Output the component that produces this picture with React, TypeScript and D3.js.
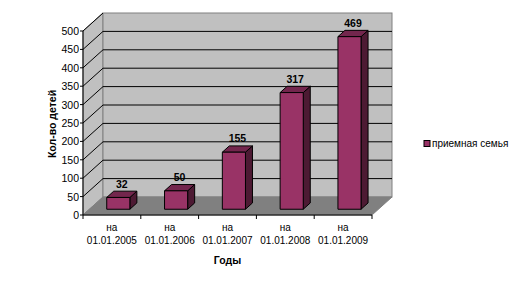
import React from "react";
import * as d3 from "d3";

const categories = ["01.01.2005", "01.01.2006", "01.01.2007", "01.01.2008", "01.01.2009"];
const values = [32, 50, 155, 317, 469];
const yTicks = [0, 50, 100, 150, 200, 250, 300, 350, 400, 450, 500];
const seriesName = "приемная семья";
const yTitle = "Кол-во детей";
const xTitle = "Годы";
const catPrefix = "на";

const W = 527, H = 285;
const X0 = 83, X1 = 372, Y0 = 215, Y1 = 31;
const DX = 20, DY = -18;
const F_FRONT = 0.32, F_BACK = 0.67;
const FONT = "'Liberation Sans', Arial, sans-serif";

export default function App() {
  const y = d3.scaleLinear().domain([0, 500]).range([Y0, Y1]);
  const x = d3.scaleBand<string>().domain(categories).range([X0, X1]).paddingInner(0.6).paddingOuter(0.3);
  const cat = d3.scaleBand<string>().domain(categories).range([X0, X1]).padding(0);
  const step = cat.step();

  return (
    <svg width={W} height={H} style={{ position: "absolute", left: 0, top: 0, background: "#fff" }} fontFamily={FONT}>
      {/* left side wall */}
      <polygon points={`${X0},${Y1} ${X0 + DX},${Y1 + DY} ${X0 + DX},${Y0 + DY} ${X0},${Y0}`} fill="#c0c0c0" stroke="#808080" />
      {/* back wall */}
      <rect x={X0 + DX} y={Y1 + DY} width={X1 - X0} height={Y0 - Y1} fill="#c0c0c0" stroke="#808080" />
      {/* gridlines */}
      {yTicks.filter(v => v > 0 && v < 500).map(v => (
        <line key={"g" + v} x1={X0 + DX} x2={X1 + DX} y1={y(v) + DY} y2={y(v) + DY} stroke="#000" />
      ))}
      {yTicks.filter(v => v > 0).map(v => (
        <line key={"d" + v} x1={X0} y1={y(v)} x2={X0 + DX} y2={y(v) + DY} stroke="#000" />
      ))}
      {/* floor */}
      <polygon points={`${X0},${Y0} ${X0 + DX},${Y0 + DY} ${X1 + DX},${Y0 + DY} ${X1},${Y0}`} fill="#808080" stroke="#808080" />
      {/* bars */}
      {categories.map((c, i) => {
        const xl = x(c)!;
        const xr = xl + x.bandwidth();
        const yb = y(0);
        const yt = y(values[i]);
        const fx = (px: number) => px + F_FRONT * DX;
        const fy = (py: number) => py + F_FRONT * DY;
        const d = F_BACK - F_FRONT;
        const front = `${fx(xl)},${fy(yt)} ${fx(xr)},${fy(yt)} ${fx(xr)},${fy(yb)} ${fx(xl)},${fy(yb)}`;
        const top = `${fx(xl)},${fy(yt)} ${fx(xl) + d * DX},${fy(yt) + d * DY} ${fx(xr) + d * DX},${fy(yt) + d * DY} ${fx(xr)},${fy(yt)}`;
        const side = `${fx(xr)},${fy(yt)} ${fx(xr) + d * DX},${fy(yt) + d * DY} ${fx(xr) + d * DX},${fy(yb) + d * DY} ${fx(xr)},${fy(yb)}`;
        const cx = fx(xl + x.bandwidth() / 2) + (d * DX) / 2;
        return (
          <g key={c} stroke="#000" strokeWidth={1} strokeLinejoin="round">
            <polygon points={side} fill="#4d1a33" />
            <polygon points={top} fill="#73264d" />
            <polygon points={front} fill="#993366" />
            <text x={cx} y={fy(yt) + d * DY - 3.5} textAnchor="middle" fontSize={10.5} fontWeight="bold" stroke="none" fill="#000">{values[i]}</text>
          </g>
        );
      })}
      {/* y axis */}
      <line x1={X0} y1={Y0} x2={X0} y2={Y1} stroke="#000" />
      {yTicks.map(v => (
        <g key={"t" + v}>
          <line x1={X0 - 3} x2={X0} y1={y(v)} y2={y(v)} stroke="#000" />
          <text x={X0 - 4} y={y(v) + 4} textAnchor="end" fontSize={10.5} fill="#000">{v}</text>
        </g>
      ))}
      {/* x axis */}
      <line x1={X0} y1={Y0} x2={X1} y2={Y0} stroke="#000" />
      {d3.range(categories.length + 1).map(i => (
        <line key={"xt" + i} x1={X0 + i * step} x2={X0 + i * step} y1={Y0} y2={Y0 + 4} stroke="#000" />
      ))}
      {categories.map(c => {
        const cx = cat(c)! + step / 2;
        return (
          <g key={"xl" + c} fontSize={10} fill="#000" textAnchor="middle">
            <text x={cx} y={231}>{catPrefix}</text>
            <text x={cx} y={244}>{c}</text>
          </g>
        );
      })}
      <text x={(X0 + X1) / 2} y={264} textAnchor="middle" fontSize={10.5} fontWeight="bold">{xTitle}</text>
      <text transform={`translate(56,124) rotate(-90)`} textAnchor="middle" fontSize={10.5} fontWeight="bold">{yTitle}</text>
      {/* legend */}
      <rect x={424} y={140.5} width={6} height={6} fill="#993366" stroke="#000" />
      <text x={432} y={147} fontSize={10} fill="#000">{seriesName}</text>
    </svg>
  );
}
